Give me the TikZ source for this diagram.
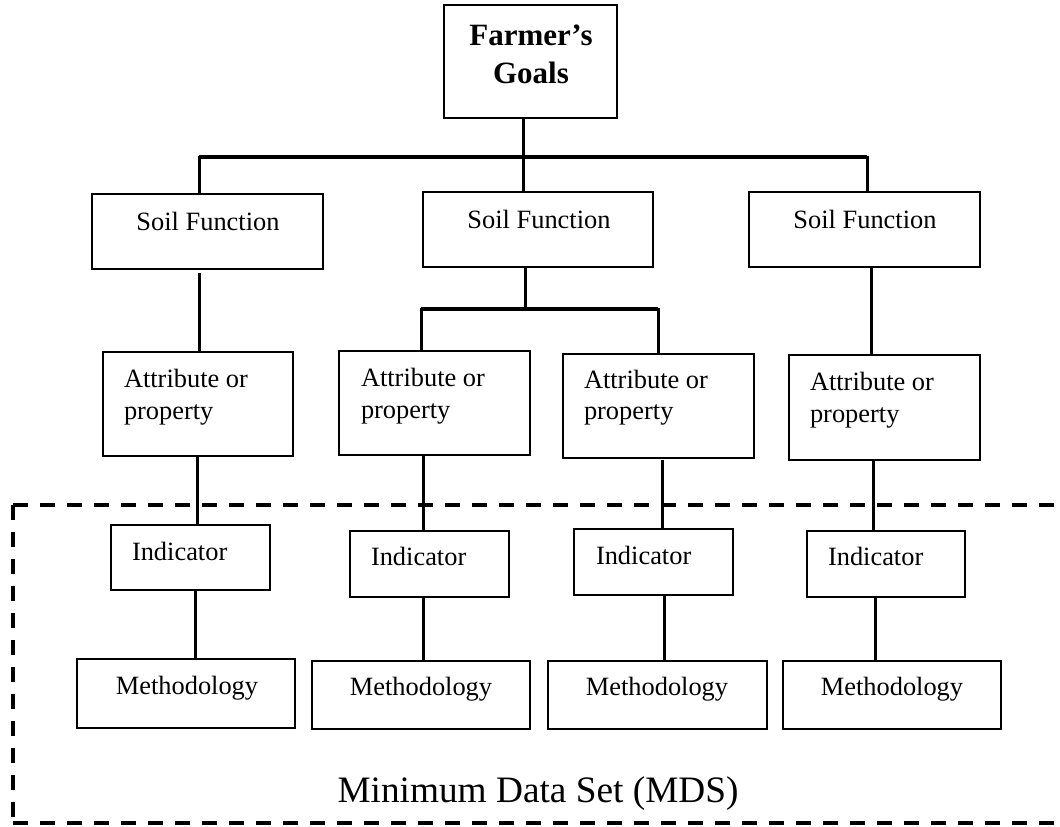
\documentclass[tikz,border=0pt]{standalone}
\usepackage{fontspec}
\setmainfont{Liberation Serif}
\begin{document}
\begin{tikzpicture}[x=1pt,y=-1pt,
  box/.style={draw=black,line width=2pt,rectangle,inner sep=0pt,outer sep=0pt},
  conn/.style={line width=3pt},
  busline/.style={line width=3.5pt},
  txt/.style={inner sep=0pt,outer sep=0pt,font=\fontsize{26.4}{31.7}\selectfont},
  goaltxt/.style={inner sep=0pt,outer sep=0pt,align=center,font=\fontsize{31}{38}\selectfont\bfseries},
  mdstxt/.style={inner sep=0pt,outer sep=0pt,font=\fontsize{37.3}{44}\selectfont},
  mdsbox/.style={line width=4pt,dash pattern=on 15pt off 12pt}
]
\useasboundingbox (0,0) rectangle (1060,827);
\newcommand{\bx}[5]{\node[box,minimum width={(#4)-(#2)},minimum height={(#5)-(#3)}] (#1) at ({((#2)+(#4))/2},{((#3)+(#5))/2}) {};}
% boxes
\bx{goal}{444}{5}{617}{118}
\bx{sfa}{92}{194}{323}{269}
\bx{sfb}{423}{192}{653}{267}
\bx{sfc}{749}{192}{980}{267}
\bx{ata}{103}{352}{293}{456}
\bx{atb}{339}{351}{530}{455}
\bx{atc}{563}{354}{754}{458}
\bx{atd}{789}{355}{980}{460}
\bx{ina}{111}{525}{270}{590}
\bx{inb}{350}{531}{509}{597}
\bx{inc}{574}{529}{733}{595}
\bx{ind}{807}{531}{965}{597}
\bx{mea}{77}{659}{295}{728}
\bx{meb}{312}{661}{530}{729}
\bx{mec}{548}{661}{767}{729}
\bx{med}{783}{661}{1001}{729}
% texts
\node[goaltxt] (goaltext) at (531,54) {Farmer’s\\Goals};
\node[txt,anchor=base] (sfat) at (208,230) {Soil Function};
\node[txt,anchor=base] (sfbt) at (539,228) {Soil Function};
\node[txt,anchor=base] (sfct) at (865,228) {Soil Function};
\node[txt,anchor=base west] (ata1) at (124,387) {Attribute or};
\node[txt,anchor=base west] (ata2) at (124,419) {property};
\node[txt,anchor=base west] (atb1) at (361,386) {Attribute or};
\node[txt,anchor=base west] (atb2) at (361,418) {property};
\node[txt,anchor=base west] (atc1) at (584,388) {Attribute or};
\node[txt,anchor=base west] (atc2) at (584,419) {property};
\node[txt,anchor=base west] (atd1) at (810,390) {Attribute or};
\node[txt,anchor=base west] (atd2) at (810,422) {property};
\node[txt,anchor=base west] (inat) at (132,560) {Indicator};
\node[txt,anchor=base west] (inbt) at (371,565) {Indicator};
\node[txt,anchor=base west] (inct) at (596,564) {Indicator};
\node[txt,anchor=base west] (indt) at (828,565) {Indicator};
\node[txt,anchor=base] (meat) at (187,694) {Methodology};
\node[txt,anchor=base] (mebt) at (421,695) {Methodology};
\node[txt,anchor=base] (mect) at (657,695) {Methodology};
\node[txt,anchor=base] (medt) at (892,695) {Methodology};
\node[mdstxt,anchor=base] (mds) at (538,802) {Minimum Data Set (MDS)};
% top bus
\coordinate (ba) at (199,157);
\coordinate (bm) at (523,157);
\coordinate (bc) at (867,157);
\draw[busline] (ba) -- (bc);
\draw[conn] (goal.south -| bm) -- (sfb.north -| bm);
\draw[conn] ([yshift=1.5pt]ba) -- (sfa.north -| ba);
\draw[conn] ([yshift=1.5pt]bc) -- (sfc.north -| bc);
% column a
\coordinate (ca) at (199,0);
\coordinate (caa) at (197,0);
\coordinate (cab) at (195,0);
\draw[conn] ([yshift=-4pt]sfa.south -| ca) -- (ata.north -| ca);
\draw[conn] (ata.south -| caa) -- (ina.north -| caa);
\draw[conn] (ina.south -| cab) -- (mea.north -| cab);
% sub bus
\coordinate (sm) at (525,309);
\coordinate (sl) at (421,309);
\coordinate (sr) at (658,309);
\draw[conn] (sfb.south -| sm) -- (sm);
\draw[busline] (sl) -- (sr);
\draw[conn] ([yshift=1.5pt]sl) -- (atb.north -| sl);
\draw[conn] ([yshift=1.5pt]sr) -- (atc.north -| sr);
% column b
\coordinate (cb) at (423,0);
\draw[conn] (atb.south -| cb) -- (inb.north -| cb);
\draw[conn] (inb.south -| cb) -- (meb.north -| cb);
% column c
\coordinate (cc) at (662,0);
\coordinate (ccb) at (664,0);
\draw[conn] ([yshift=-2pt]atc.south -| cc) -- (inc.north -| cc);
\draw[conn] (inc.south -| ccb) -- (mec.north -| ccb);
% column d
\coordinate (cd) at (871,0);
\coordinate (cda) at (873,0);
\coordinate (cdb) at (875,0);
\draw[conn] (sfc.south -| cd) -- (atd.north -| cd);
\draw[conn] (atd.south -| cda) -- (ind.north -| cda);
\draw[conn] (ind.south -| cdb) -- (med.north -| cdb);
% MDS dashed frame
\coordinate (fr1) at (1060,505);
\coordinate (fr2) at (13,505);
\coordinate (fr3) at (13,823);
\coordinate (fr4) at (1060,823);
\draw[mdsbox] (fr2) -- (fr1);
\draw[mdsbox] (fr2) -- (fr3);
\draw[mdsbox] (fr3) -- (fr4);
\end{tikzpicture}
\end{document}
